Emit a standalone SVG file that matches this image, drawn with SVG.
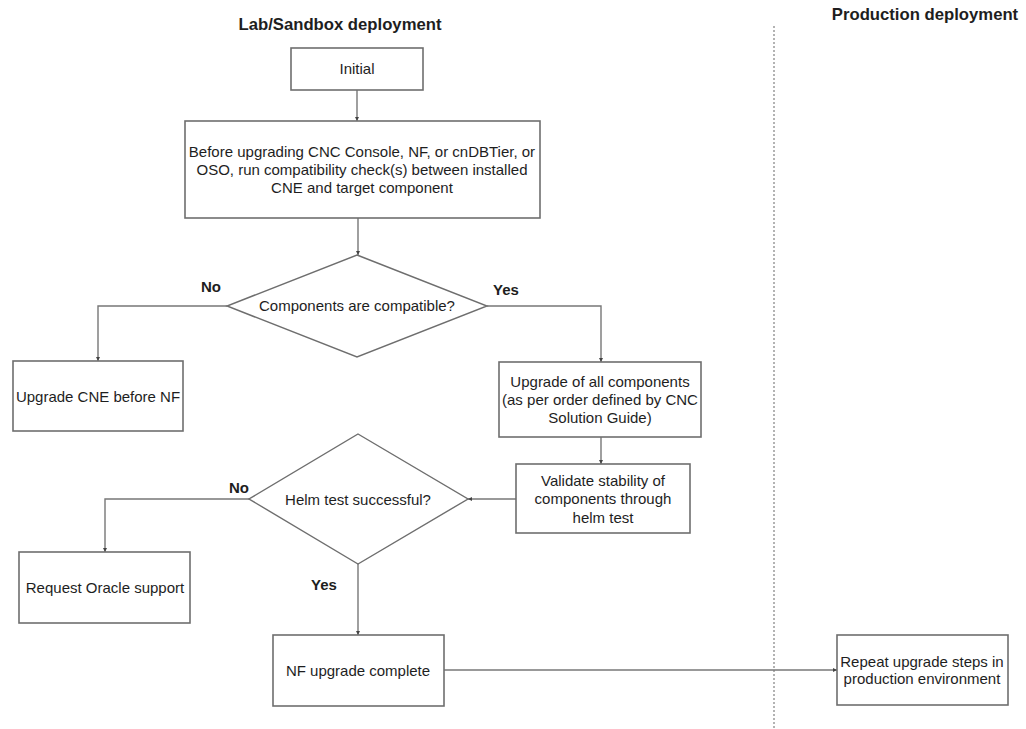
<svg xmlns="http://www.w3.org/2000/svg" width="1026" height="729" viewBox="0 0 1026 729">
  <defs>
    <style>
      .box { fill: #ffffff; stroke: #6e6e6e; stroke-width: 1.6; }
      .dec { fill: #ffffff; stroke: #6e6e6e; stroke-width: 1.4; }
      .edge { fill: none; stroke: #777777; stroke-width: 1.4; }
      .lane { fill: none; stroke: #9a9a9a; stroke-width: 1.5; stroke-dasharray: 2 2; }
      .t { font-family: "Liberation Sans", Arial, sans-serif; font-size: 15px; fill: #1e1e1e; text-anchor: middle; }
      .lbl { font-family: "Liberation Sans", Arial, sans-serif; font-size: 15px; font-weight: bold; fill: #1e1e1e; text-anchor: middle; }
      .title { font-family: "Liberation Sans", Arial, sans-serif; font-size: 16.7px; font-weight: bold; fill: #1e1e1e; text-anchor: middle; }
    </style>
    <marker id="arrow" viewBox="0 0 6 6" refX="6" refY="3" markerWidth="4" markerHeight="4" orient="auto" markerUnits="userSpaceOnUse">
      <path d="M0,0 L6,3 L0,6 z" fill="#444444"/>
    </marker>
  </defs>

  <rect width="1026" height="729" fill="#ffffff"/>

  <!-- swimlane headings and separator -->
  <text class="title" x="340" y="30">Lab/Sandbox deployment</text>
  <text class="title" x="925" y="20">Production deployment</text>
  <line class="lane" x1="774" y1="26" x2="774" y2="729"/>

  <!-- connectors -->
  <g id="connectors">
    <path class="edge" d="M357,90 V121" marker-end="url(#arrow)"/>
    <path class="edge" d="M358,218 V255" marker-end="url(#arrow)"/>
    <path class="edge" d="M227,306 H98 V361" marker-end="url(#arrow)"/>
    <path class="edge" d="M487,306 H601 V362" marker-end="url(#arrow)"/>
    <path class="edge" d="M601,437 V464" marker-end="url(#arrow)"/>
    <path class="edge" d="M516,499 H468" marker-end="url(#arrow)"/>
    <path class="edge" d="M249,499 H105 V552" marker-end="url(#arrow)"/>
    <path class="edge" d="M358,564 V635" marker-end="url(#arrow)"/>
    <path class="edge" d="M444,670 H837" marker-end="url(#arrow)"/>
    <text class="lbl" x="211" y="292">No</text>
    <text class="lbl" x="506" y="295">Yes</text>
    <text class="lbl" x="239" y="493">No</text>
    <text class="lbl" x="324" y="590">Yes</text>
  </g>

  <g id="initial">
    <rect class="box" x="291" y="48" width="132" height="42"/>
    <text class="t" x="357" y="74">Initial</text>
  </g>

  <g id="compat-check">
    <rect class="box" x="185" y="121" width="355" height="97"/>
    <text class="t" x="362" y="157">Before upgrading CNC Console, NF, or cnDBTier, or</text>
    <text class="t" x="362" y="175">OSO, run compatibility check(s) between installed</text>
    <text class="t" x="362" y="193">CNE and target component</text>
  </g>

  <g id="compatible">
    <polygon class="dec" points="357,255 487,306 357,357 227,306"/>
    <text class="t" x="357" y="311">Components are compatible?</text>
  </g>

  <g id="upgrade-cne">
    <rect class="box" x="13" y="361" width="170" height="70"/>
    <text class="t" x="98" y="402">Upgrade CNE before NF</text>
  </g>

  <g id="upgrade-all">
    <rect class="box" x="499" y="362" width="202" height="75"/>
    <text class="t" x="600" y="387">Upgrade of all components</text>
    <text class="t" x="600" y="405">(as per order defined by CNC</text>
    <text class="t" x="600" y="423">Solution Guide)</text>
  </g>

  <g id="validate">
    <rect class="box" x="516" y="464" width="174" height="69"/>
    <text class="t" x="603" y="486">Validate stability of</text>
    <text class="t" x="603" y="504">components through</text>
    <text class="t" x="603" y="523">helm test</text>
  </g>

  <g id="helm-ok">
    <polygon class="dec" points="358,434 468,499 358,564 249,499"/>
    <text class="t" x="358" y="505">Helm test successful?</text>
  </g>

  <g id="oracle-support">
    <rect class="box" x="19" y="552" width="171" height="71"/>
    <text class="t" x="105" y="593">Request Oracle support</text>
  </g>

  <g id="nf-complete">
    <rect class="box" x="273" y="635" width="171" height="71"/>
    <text class="t" x="358" y="676">NF upgrade complete</text>
  </g>

  <g id="repeat-prod">
    <rect class="box" x="837" y="635" width="171" height="70"/>
    <text class="t" x="922" y="667">Repeat upgrade steps in</text>
    <text class="t" x="922" y="684">production environment</text>
  </g>
</svg>
